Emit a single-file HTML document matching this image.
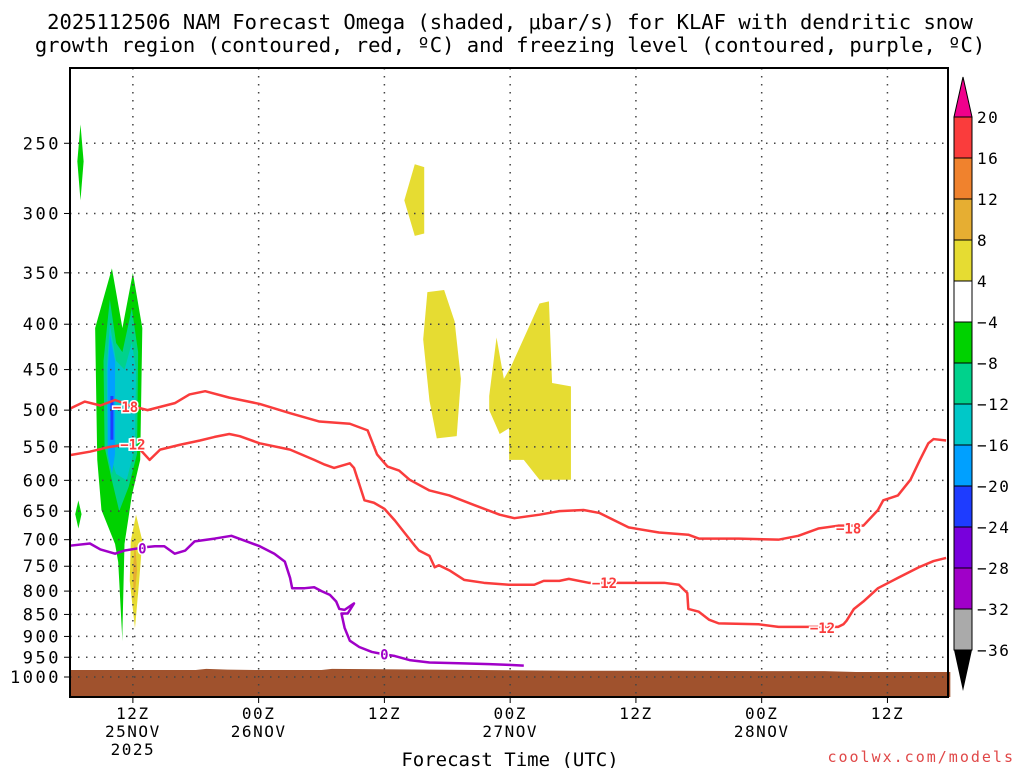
<!DOCTYPE html>
<html><head><meta charset="utf-8"><style>
body{margin:0;background:#fff;width:1024px;height:768px;overflow:hidden}
svg{display:block;font-family:"DejaVu Sans Mono","Liberation Mono",monospace}
</style></head><body>
<svg id="chart" width="1024" height="768" viewBox="0 0 1024 768" xmlns="http://www.w3.org/2000/svg">
<text x="510" y="29" font-size="20.5" text-anchor="middle">2025112506 NAM Forecast Omega (shaded, μbar/s) for KLAF with dendritic snow</text>
<text x="510" y="52" font-size="20.5" text-anchor="middle">growth region (contoured, red, ºC) and freezing level (contoured, purple, ºC)</text>
<g id="plot"></g>
<g id="cbar"></g>
<text x="510" y="766" font-size="19" text-anchor="middle">Forecast Time (UTC)</text>
<text x="1015" y="762" font-size="15" letter-spacing="2" text-anchor="end" fill="#e04848">coolwx.com/models</text>
</svg>
<script>
// ---- data ----
const pressureTicks=[250,300,350,400,450,500,550,600,650,700,750,800,850,900,950,1000];
const timeTickHours=[6,18,30,42,54,66,78];
const timeTickLabels=["12Z","00Z","12Z","00Z","12Z","00Z","12Z"];
const timeTickDates=["25NOV","26NOV","","27NOV","","28NOV",""];
const redUpperHours=[0,1.4,2.9,4.3,5.7,7.4,10,11.4,12.9,15.2,18.1,21,23.8,26.7,28.4,29.3,30.3,31.4,32.4,34.3,36.2,38.6,41,42.4,44.8,46.7,49,50.5,53.3,56.2,59,60,63.8,67.6,69.5,71.4,73.3,75.7,77.1,77.6,79,80.2,81.1,81.9,82.4,83.6];
const redUpperP=[498,489,494,487,494,500,491,480,476,484,492,504,515,518,527,561,579,585,599,616,624,640,656,662,656,650,648,653,678,687,691,698,698,700,693,680,675,675,648,632,624,599,569,545,539,541];
const redLowerHours=[0,1.9,3.8,5.2,6.7,7.6,8.6,10.5,12.4,13.8,15.2,16.2,18.1,21,23.3,24.3,25.2,26.7,27.1,28.1,29,30,31,31.9,32.9,33.3,34.3,34.8,35.2,36.2,37.6,39.5,41.9,44.3,45.2,46.7,47.6,49.5,53.3,56.7,58.1,58.9,59,60,61,61.9,65.7,67.6,70.5,73.3,73.8,74.1,74.8,75.7,77.1,79,81,82.4,83.6];
const redLowerP=[562,557,550,547,554,569,554,547,541,536,532,535,545,554,569,576,581,574,581,632,636,646,666,687,711,720,730,752,748,758,777,783,787,787,779,779,775,783,783,783,787,804,838,844,862,870,872,878,878,878,872,864,838,822,794,773,752,740,734];
const frzHours=[0,1.9,2.9,4.3,5.2,7.1,8.1,9,10,11,11.9,13.8,15.4,16.7,18.1,19.5,20.5,21,21.2,22.4,23.3,24,24.8,25.4,25.7,26.2,27.1,26.5,25.9,26.2,26.7,27.6,28.8,30,31,32.4,34.3,37.1,40,41.9,43.3];
const frzP=[711,707,718,726,720,714,712,712,726,720,703,698,693,702,712,726,741,773,794,794,792,800,808,822,838,840,826,848,848,880,910,925,937,943,947,957,963,965,967,969,971];
const surfHours=[0,12,13,15,18,24,25,48,58,66,72,75,84];
const surfP=[982,982,979,981,982,982,979,984,984,985,985,987,987];
const omegaShapes=[
 {c:"#00d200",h:[1.0,1.3,1.0,0.7],p:[238,262,290,262]},
 {c:"#00d200",h:[0.8,1.1,0.8,0.5],p:[632,655,680,655]},
 {c:"#00d200",h:[4.0,5.0,6.0,6.9,6.7,5.9,5.2,5.0,5.0,4.6,4.3,3.0,2.6,2.4],p:[346,404,350,404,569,624,708,890,911,742,708,648,569,404]},
 {c:"#00d28c",h:[3.8,4.4,5.0,5.9,6.5,6.4,5.6,4.7,4.0,3.3,3.2],p:[375,420,430,384,430,560,610,650,600,550,440]},
 {c:"#00c8c8",h:[3.8,4.4,5.2,5.9,6.3,6.2,5.4,4.4,3.6,3.5],p:[400,440,450,420,450,550,600,590,550,450]},
 {c:"#00a0ff",h:[3.8,4.3,4.3,4.0,3.6,3.6],p:[410,440,560,590,560,450]},
 {c:"#e6dc32",h:[6.3,6.9,6.6,6.2,5.7,5.8],p:[656,702,779,881,779,702]},
 {c:"#e6ae32",h:[6.2,6.4,6.1,6.0],p:[702,758,826,758]},
 {c:"#e6dc32",h:[32.9,33.8,33.8,32.9,31.9],p:[264,266,316,318,290]},
 {c:"#e6dc32",h:[34.1,35.7,36.7,37.3,36.9,35.0,34.3,33.7],p:[368,366,397,461,535,538,488,416]},
 {c:"#e6dc32",h:[40.0,40.7,41.4,42.1,44.8,45.7,46.0,47.8,47.8,44.8,43.3,41.9,41.9,41.0,40.0],p:[482,414,461,446,379,377,466,470,599,599,569,569,524,532,500]}
];
const cbarLabels=["20","16","12","8","4","−4","−8","−12","−16","−20","−24","−28","−32","−36"];
const cbarColors=["#fa3c3c","#f0822d","#e6ae32","#e6dc32","#ffffff","#00d200","#00d28c","#00c8c8","#00a0ff","#1e3cff","#7800dc","#a000c8","#aaaaaa"];
const contourLabels=[{t:"−18",h:5.3,p:496,c:"#fa3c3c"},{t:"−12",h:6.0,p:547,c:"#fa3c3c"},{t:"0",h:6.9,p:716,c:"#a000c8"},{t:"0",h:30,p:943,c:"#a000c8"},{t:"−12",h:51,p:783,c:"#fa3c3c"},{t:"−18",h:74.3,p:680,c:"#fa3c3c"},{t:"−12",h:71.8,p:880,c:"#fa3c3c"}];
// ---- axes ----
const L=70,R=948,T=68,B=697;
const X=h=>L+h*10.48;
const Y=p=>677+385*Math.log(p/1000);
const NS="http://www.w3.org/2000/svg";
function mk(tag,parent,attrs){const e=document.createElementNS(NS,tag);for(const k in attrs)e.setAttribute(k,attrs[k]);parent.appendChild(e);return e;}
const svg=document.getElementById('chart');
const plot=document.getElementById('plot');
omegaShapes.forEach((s,i)=>{
 const e=mk('polygon',plot,{points:s.h.map((h,j)=>X(h)+','+Y(s.p[j])).join(' '),fill:s.c});
 
 
});
const dl=mk('line',plot,{x1:X(4.0),x2:X(4.0),y1:Y(482),y2:Y(540),stroke:"#1e3cff","stroke-width":3});


{let pts=surfHours.map((h,i)=>X(h)+','+Y(surfP[i]));pts.push(X(84)+','+B,X(0)+','+B);
const e=mk('polygon',plot,{points:pts.join(' '),fill:"#a0522d"});

}
pressureTicks.forEach(p=>{
 const g=mk('line',plot,{x1:L,x2:R,y1:Y(p),y2:Y(p),stroke:"#444","stroke-width":1.5,"stroke-dasharray":"1.5 6.5"});
 
 
 mk('line',plot,{x1:L-6,x2:L,y1:Y(p),y2:Y(p),stroke:"#000"});
 const t=mk('text',svg,{x:61,y:Y(p)+6,"font-size":17,"letter-spacing":2.5,"text-anchor":"end"});t.textContent=p;
 
 
});
timeTickHours.forEach((h,i)=>{
 const g=mk('line',plot,{x1:X(h),x2:X(h),y1:T,y2:B,stroke:"#444","stroke-width":1.5,"stroke-dasharray":"1.5 6.5"});
 
 
 mk('line',plot,{x1:X(h),x2:X(h),y1:B,y2:B+6,stroke:"#000"});
 const t=mk('text',svg,{x:X(h),y:719,"font-size":16,"letter-spacing":1.5,"text-anchor":"middle"});t.textContent=timeTickLabels[i];
 
 
 if(timeTickDates[i]){const d=mk('text',svg,{x:X(h),y:737,"font-size":16,"letter-spacing":1.5,"text-anchor":"middle"});d.textContent=timeTickDates[i];
 
 }
});
{const y=mk('text',svg,{x:X(6),y:755,"font-size":16,"letter-spacing":1.5,"text-anchor":"middle"});y.textContent="2025";

}
function line(hs,ps,col,name){const e=mk('polyline',plot,{points:hs.map((h,i)=>X(h)+','+Y(ps[i])).join(' '),fill:"none",stroke:col,"stroke-width":2.5,"stroke-linejoin":"round"});

}
line(redUpperHours,redUpperP,"#fa3c3c","contour-minus18");
line(redLowerHours,redLowerP,"#fa3c3c","contour-minus12");
line(frzHours,frzP,"#a000c8","freezing-level-contour");
contourLabels.forEach(c=>{
 const e=mk('text',plot,{x:X(c.h),y:Y(c.p)+5,"font-size":14,"font-weight":"bold","text-anchor":"middle",fill:c.c,stroke:"#fff","stroke-width":3,"paint-order":"stroke"});e.textContent=c.t;
 
 
});
{const f=mk('rect',plot,{x:L,y:T,width:R-L,height:B-T,fill:"none",stroke:"#000","stroke-width":2});

}
const cb=document.getElementById('cbar');
const cx=954,cw=18,c0=117,cs=41;
mk('polygon',cb,{points:`${cx},${c0} ${cx+cw/2},77 ${cx+cw},${c0}`,fill:"#f0008c",stroke:"#000"});
cbarColors.forEach((c,i)=>{const r=mk('rect',cb,{x:cx,y:c0+i*cs,width:cw,height:cs,fill:c,stroke:"#000","stroke-width":1});

});
mk('polygon',cb,{points:`${cx},${c0+13*cs} ${cx+cw/2},691 ${cx+cw},${c0+13*cs}`,fill:"#000"});
cbarLabels.forEach((l,i)=>{const t=mk('text',cb,{x:977,y:c0+i*cs+6,"font-size":16,"letter-spacing":1.5});t.textContent=l;

});
</script>
</body></html>
